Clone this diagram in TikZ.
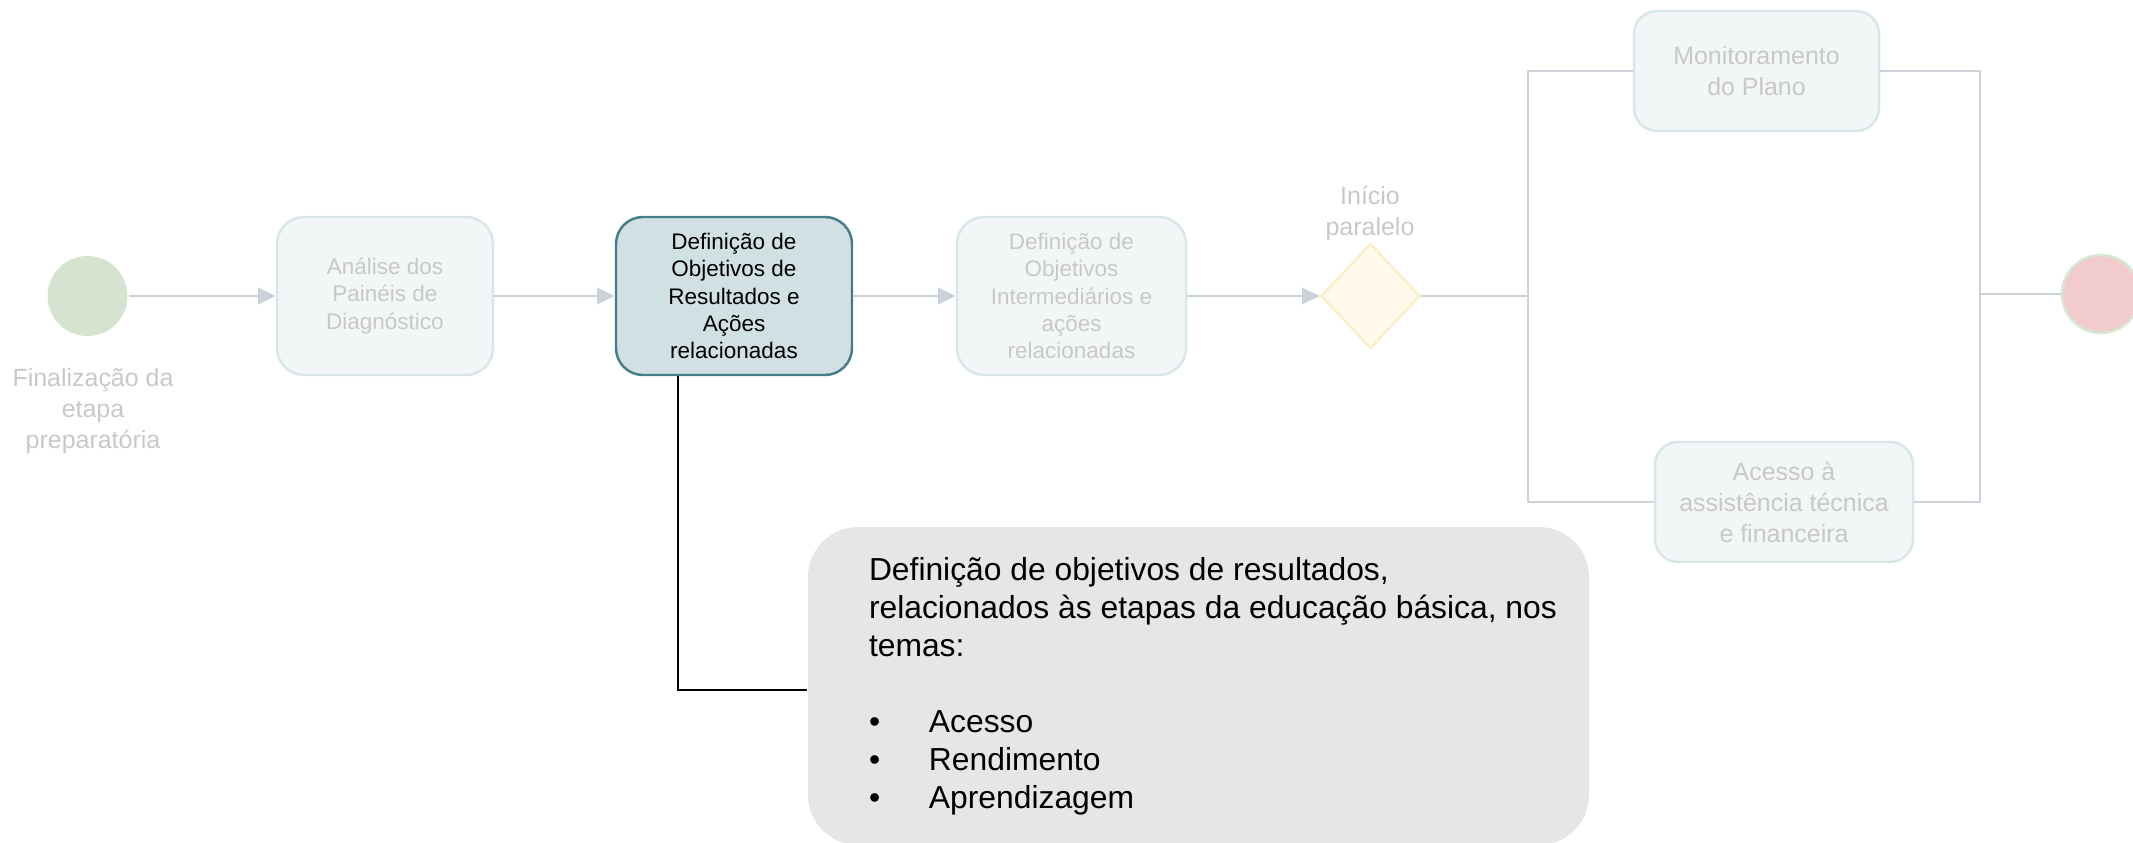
\documentclass[tikz,border=0pt]{standalone}
\usepackage{fontspec}
\setmainfont{Liberation Sans}
\usepackage{xcolor}
\usepackage{tikz}
\usetikzlibrary{arrows.meta,positioning,shapes.geometric}

\definecolor{flowgray}{HTML}{CCD2D9}
\definecolor{fadedtxt}{HTML}{C8C8C8}
\definecolor{taskfill}{HTML}{F3F6F7}
\definecolor{taskline}{HTML}{D9E6E9}
\definecolor{activefill}{HTML}{D0E0E3}
\definecolor{activeline}{HTML}{457E88}
\definecolor{startfill}{HTML}{D5E3D0}
\definecolor{gatefill}{HTML}{FFFAEB}
\definecolor{gateline}{HTML}{FCEDC8}
\definecolor{endfill}{HTML}{F2CCCC}
\definecolor{endline}{HTML}{D5E8D4}
\definecolor{notefill}{HTML}{E6E6E6}

\begin{document}
\begin{tikzpicture}[>={Triangle[length=5pt,width=4.6pt]},
  flowline/.style={draw=flowgray, line width=0.7pt},
  taskbox/.style={rectangle, rounded corners=0.27cm, draw=taskline, line width=0.7pt,
    fill=taskfill, text=fadedtxt, align=center, inner sep=0pt,
    minimum height=1.58cm, font=\fontsize{6.4}{7.7}\selectfont},
  activebox/.style={taskbox, draw=activeline, fill=activefill, text=black},
  sidebox/.style={taskbox, rounded corners=0.23cm, minimum height=1.2cm,
    font=\fontsize{7.1}{8.8}\selectfont},
  eventdot/.style={circle, inner sep=0pt, line width=0.7pt},
  lbl/.style={text=fadedtxt, align=center, inner sep=0pt,
    font=\fontsize{7.1}{8.8}\selectfont},
  notebox/.style={rectangle, rounded corners=0.5cm, fill=notefill, inner sep=0pt},
  notelink/.style={draw=black, line width=0.6pt}]
  \useasboundingbox (0,0) rectangle (21.33,-8.43);
  % start event
  \node[eventdot, fill=startfill, minimum size=0.8cm] (start) at (0.875,-2.96) {};
  \node[lbl] (startlbl) at (0.93,-4.11) {Finalização da\\etapa\\preparatória};
  % tasks
  \node[taskbox, minimum width=2.16cm] (diag) at (3.85,-2.96)
    {Análise dos\\Painéis de\\Diagnóstico};
  \node[activebox, minimum width=2.36cm] (objres) at (7.34,-2.96)
    {Definição de\\Objetivos de\\Resultados e\\Ações\\relacionadas};
  \node[taskbox, minimum width=2.29cm] (objint) at (10.715,-2.96)
    {Definição de\\Objetivos\\Intermediários e\\ações\\relacionadas};
  % parallel gateway
  \node[diamond, draw=gateline, fill=gatefill, line width=0.7pt, inner sep=0pt,
    minimum width=0.99cm, minimum height=1.05cm] (gate) at (13.705,-2.96) {};
  \node[lbl] (gatelbl) at (13.70,-2.13) {Início\\paralelo};
  % parallel branches
  \node[sidebox, minimum width=2.45cm] (monit) at (17.565,-0.71)
    {Monitoramento\\do Plano};
  \node[sidebox, minimum width=2.58cm] (acesso) at (17.84,-5.02)
    {Acesso à\\assistência técnica\\e financeira};
  % end event
  \node[eventdot, draw=endline, fill=endfill, minimum size=0.78cm] (finish) at (21.01,-2.94) {};
  \coordinate (split) at (15.28,-2.96);
  \coordinate (join) at (19.80,-2.94);
  % sequence flows
  \draw[flowline,->] (start) -- (diag);
  \draw[flowline,->] (diag) -- (objres);
  \draw[flowline,->] (objres) -- (objint);
  \draw[flowline,->] (objint) -- (gate);
  \draw[flowline] (gate) -- (split);
  \draw[flowline] (split) |- (monit);
  \draw[flowline] (split) |- (acesso);
  \draw[flowline] (monit) -| (join);
  \draw[flowline] (acesso) -| (join);
  \draw[flowline] (join) -- (finish);
  % annotation
  \node[notebox, minimum width=7.81cm, minimum height=3.18cm] (note) at (11.985,-6.86) {};
  \node[right=0.61cm of note.west, anchor=west, align=left, inner sep=0pt,
    font=\fontsize{9.05}{10.8}\selectfont] (notetxt)
    {Definição de objetivos de resultados,\\
     relacionados às etapas da educação básica, nos\\
     temas:\\[10.8pt]
     \makebox[0.6cm][l]{\textbullet}Acesso\\
     \makebox[0.6cm][l]{\textbullet}Rendimento\\
     \makebox[0.6cm][l]{\textbullet}Aprendizagem};
  \coordinate (elbow) at (6.78,-6.90);
  \draw[notelink] (elbow |- objres.south) -- (elbow) -- (elbow -| note.west);
\end{tikzpicture}
\end{document}
